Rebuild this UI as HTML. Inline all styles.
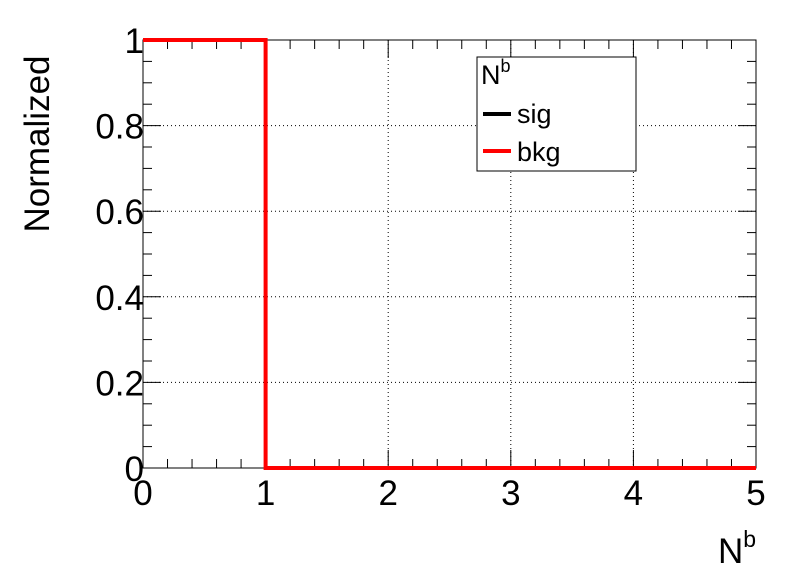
<!DOCTYPE html>
<html><head><meta charset="utf-8"><style>
body{margin:0;background:#fff;width:796px;height:572px;overflow:hidden}
svg{display:block;font-family:"Liberation Sans",Arial,sans-serif}
</style></head><body>
<svg id="c" width="796" height="572">
<rect x="143" y="40" width="613" height="428" fill="#fff" stroke="#000" stroke-width="1"/>
<g id="grid"></g>
<g id="ticks"></g>
<g id="series"></g>
<text x="49" y="144" font-size="35" text-anchor="middle" transform="rotate(-90 49 144)">Normalized</text>
<text x="718" y="563" font-size="35">N<tspan font-size="23" dy="-16">b</tspan></text>
<g>
<rect x="477" y="57" width="159" height="114" fill="#fff" stroke="#000" stroke-width="1"/>
<text x="481" y="84" font-size="27">N<tspan font-size="18" dy="-12">b</tspan></text>
<line x1="483" y1="114" x2="511" y2="114" stroke="#000" stroke-width="4"/>
<text x="517" y="123" font-size="27">sig</text>
<line x1="483" y1="151" x2="511" y2="151" stroke="#f00" stroke-width="4"/>
<text x="517" y="161" font-size="27">bkg</text>
</g>
</svg>
<script>
const xTicks=[0,1,2,3,4,5];
const yTicks=[0,0.2,0.4,0.6,0.8,1];
const yTickLabels=["0","0.2","0.4","0.6","0.8","1"];
const binEdges=[0,1,2,3,4,5];
const sigValues=[1,0,0,0,0];
const bkgValues=[1,0,0,0,0];
const X0=143,X1=756,Y0=468,Y1=40;
const xs=v=>X0+(v-0)/(5-0)*(X1-X0);
const ys=v=>Y0-(v-0)/(1-0)*(Y0-Y1);
const NS="http://www.w3.org/2000/svg";
function mk(tag,attrs,parent){const e=document.createElementNS(NS,tag);for(const k in attrs)e.setAttribute(k,attrs[k]);document.getElementById(parent).appendChild(e);return e;}
xTicks.forEach((t,i)=>{
  const x=xs(t);
  if(i>0&&i<xTicks.length-1){const g=mk('line',{x1:x,x2:x,y1:Y1,y2:Y0,stroke:'#000','stroke-dasharray':'1,3'},'grid');
  
  }
  const l=mk('line',{x1:x,x2:x,y1:Y0,y2:Y0-18,stroke:'#000'},'ticks');
  
  
  const l2=mk('line',{x1:x,x2:x,y1:Y1,y2:Y1+18,stroke:'#000'},'ticks');
  
  
  if(i<xTicks.length-1){for(let m=1;m<5;m++){const xm=xs(t+m*0.2);
    const a=mk('line',{x1:xm,x2:xm,y1:Y0,y2:Y0-9,stroke:'#000'},'ticks');
    
    
    const b=mk('line',{x1:xm,x2:xm,y1:Y1,y2:Y1+9,stroke:'#000'},'ticks');
    
    }}
  const tx=mk('text',{x:x,y:505,'font-size':35,'text-anchor':'middle'},'ticks');tx.textContent=String(t);
  
  
});
yTicks.forEach((t,i)=>{
  const y=ys(t);
  if(i>0&&i<yTicks.length-1){const g=mk('line',{x1:X0,x2:X1,y1:y,y2:y,stroke:'#000','stroke-dasharray':'1,3'},'grid');
  
  }
  const l=mk('line',{x1:X0,x2:X0+18,y1:y,y2:y,stroke:'#000'},'ticks');
  
  
  const l2=mk('line',{x1:X1,x2:X1-18,y1:y,y2:y,stroke:'#000'},'ticks');
  
  
  if(i<yTicks.length-1){for(let m=1;m<4;m++){const ym=ys(t+m*0.05);
    const a=mk('line',{x1:X0,x2:X0+9,y1:ym,y2:ym,stroke:'#000'},'ticks');
    
    
    const b=mk('line',{x1:X1,x2:X1-9,y1:ym,y2:ym,stroke:'#000'},'ticks');
    
    }}
  const tx=mk('text',{x:X0+1,y:y+13,'font-size':35,'text-anchor':'end'},'ticks');tx.textContent=yTickLabels[i];
  
  
});
function stepPath(vals){let d='M'+xs(binEdges[0])+','+ys(vals[0]);
  for(let i=0;i<vals.length;i++){d+=' L'+xs(binEdges[i+1])+','+ys(vals[i]);if(i+1<vals.length)d+=' L'+xs(binEdges[i+1])+','+ys(vals[i+1]);}
  return d;}
const ps=mk('path',{d:stepPath(sigValues),fill:'none',stroke:'#000','stroke-width':3},'series');


const pb=mk('path',{d:stepPath(bkgValues),fill:'none',stroke:'#f00','stroke-width':4},'series');


</script>
</body></html>
